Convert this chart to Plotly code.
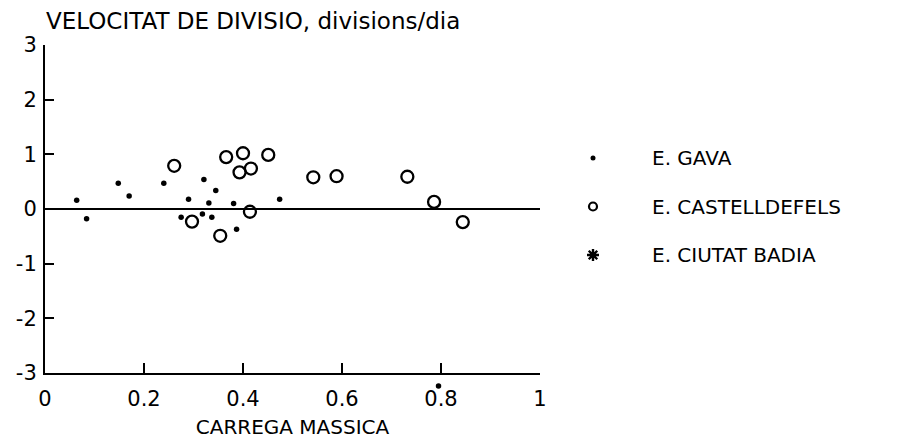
import plotly.graph_objects as go

# Data
gava_x = [0.064, 0.084, 0.148, 0.170, 0.240, 0.290, 0.275, 0.321, 0.345, 0.331,
          0.318, 0.337, 0.381, 0.387, 0.474, 0.795]
gava_y = [0.16, -0.18, 0.47, 0.24, 0.47, 0.18, -0.15, 0.54, 0.34, 0.11,
          -0.09, -0.15, 0.10, -0.37, 0.18, -3.24]

cast_x = [0.261, 0.297, 0.366, 0.400, 0.393, 0.416, 0.451, 0.414, 0.354,
          0.542, 0.589, 0.732, 0.786, 0.844]
cast_y = [0.79, -0.23, 0.95, 1.02, 0.67, 0.74, 0.99, -0.05, -0.49,
          0.58, 0.60, 0.59, 0.13, -0.24]

badia_x = []
badia_y = []

series_names = ["E. GAVA", "E. CASTELLDEFELS", "E. CIUTAT BADIA"]
x_ticks = [0, 0.2, 0.4, 0.6, 0.8, 1]
x_tick_labels = ["0", "0.2", "0.4", "0.6", "0.8", "1"]
y_ticks = [-3, -2, -1, 0, 1, 2, 3]
y_tick_labels = ["-3", "-2", "-1", "0", "1", "2", "3"]
Y_MIN, Y_MAX = -3, 3

FONT = "DejaVu Sans, Verdana, sans-serif"

OFF = 8                            # default page body margin
W, H = 911 - OFF, 442 - OFF
L, R, T, B = 45 - OFF, 540 - OFF, 45 - OFF, 373 - OFF   # main plot box
EXT = 40                           # extra drawing room below the x axis
ML, MR = L, 0
PW = W - ML - MR
PH = (B + EXT) - T
px_per_unit = (B - T) / (Y_MAX - Y_MIN)
LEG_X = 593 - OFF
LEG_Y0 = 158 - OFF

fig = go.Figure()

fig.add_trace(go.Scatter(x=cast_x, y=cast_y, mode="markers", name=series_names[1],
                         marker=dict(symbol="circle-open", size=12, color="black",
                                     line=dict(width=2.3, color="black")),
                         cliponaxis=False, showlegend=False))
fig.add_trace(go.Scatter(x=badia_x, y=badia_y, mode="markers", name=series_names[2],
                         marker=dict(symbol="asterisk-open", size=10, color="black",
                                     line=dict(width=2, color="black")),
                         cliponaxis=False, showlegend=False))
# GAVA has one point below the frame: hidden y axis with the same scale, extended down
fig.add_trace(go.Scatter(x=gava_x, y=gava_y, mode="markers", name=series_names[0],
                         marker=dict(symbol="circle", size=5.5, color="black"),
                         yaxis="y3", cliponaxis=False, showlegend=False))

# Legend drawn on an overlay axis in the right-hand area
leg_rows = [0, 1, 2]
leg_symbols = [
    dict(symbol="circle", size=5, color="black"),
    dict(symbol="circle-open", size=8, color="black", line=dict(width=2.2, color="black")),
    dict(symbol="asterisk-open", size=10, color="black", line=dict(width=2.4, color="black")),
]
for r, m in zip(leg_rows, leg_symbols):
    fig.add_trace(go.Scatter(x=[0], y=[r], mode="markers", marker=m,
                             xaxis="x2", yaxis="y2", showlegend=False,
                             hoverinfo="skip", cliponaxis=False))
    fig.add_annotation(x=0, y=r, xref="x2", yref="y2", text=series_names[r],
                       showarrow=False, xanchor="left", yanchor="middle", xshift=57,
                       font=dict(family=FONT, size=20, color="black"))

row_px = 48.5
top_val = -(LEG_Y0 - T) / row_px
bot_val = top_val + PH / row_px

fig.update_layout(
    width=W, height=H,
    margin=dict(l=ML, r=MR, t=T, b=H - (B + EXT), autoexpand=False),
    paper_bgcolor="white", plot_bgcolor="rgba(0,0,0,0)",
    font=dict(family=FONT, size=20, color="black"),
    xaxis=dict(domain=[0, (R - L) / PW], range=[0, 1], tickvals=x_ticks,
               ticktext=x_tick_labels, automargin=False, ticklabelstandoff=6,
               anchor="y",
               showline=True, linewidth=2, linecolor="black", mirror=False,
               ticks="inside", ticklen=10, tickwidth=2, tickcolor="black",
               showgrid=False, zeroline=False, fixedrange=True,
               tickfont=dict(family=FONT, size=21),
               title=dict(text="CARREGA MASSICA", standoff=10,
                          font=dict(family=FONT, size=20))),
    yaxis=dict(domain=[EXT / PH, 1], range=[Y_MIN, Y_MAX], tickvals=y_ticks,
               ticktext=y_tick_labels, anchor="x",
               automargin=False, ticklabelstandoff=2,
               showline=True, linewidth=2, linecolor="black", mirror=False,
               ticks="inside", ticklen=9, tickwidth=2, tickcolor="black",
               showgrid=False, zeroline=True, zerolinewidth=2, zerolinecolor="black",
               fixedrange=True, tickfont=dict(family=FONT, size=21)),
    yaxis3=dict(domain=[0, 1], range=[Y_MIN - EXT / px_per_unit, Y_MAX],
                anchor="x", visible=False, fixedrange=True),
    xaxis2=dict(domain=[(LEG_X - ML) / PW, 1], range=[0, 1], visible=False,
                anchor="y2", fixedrange=True),
    yaxis2=dict(domain=[0, 1], range=[bot_val, top_val], visible=False,
                anchor="x2", fixedrange=True),
    showlegend=False,
)

fig.add_annotation(x=0, y=1, xref="paper", yref="paper", xshift=-1, yshift=24,
                   text="VELOCITAT DE DIVISIO, divisions/dia", showarrow=False,
                   xanchor="left", yanchor="middle",
                   font=dict(family=FONT, size=23, color="black"))

fig.write_html("out.html")
